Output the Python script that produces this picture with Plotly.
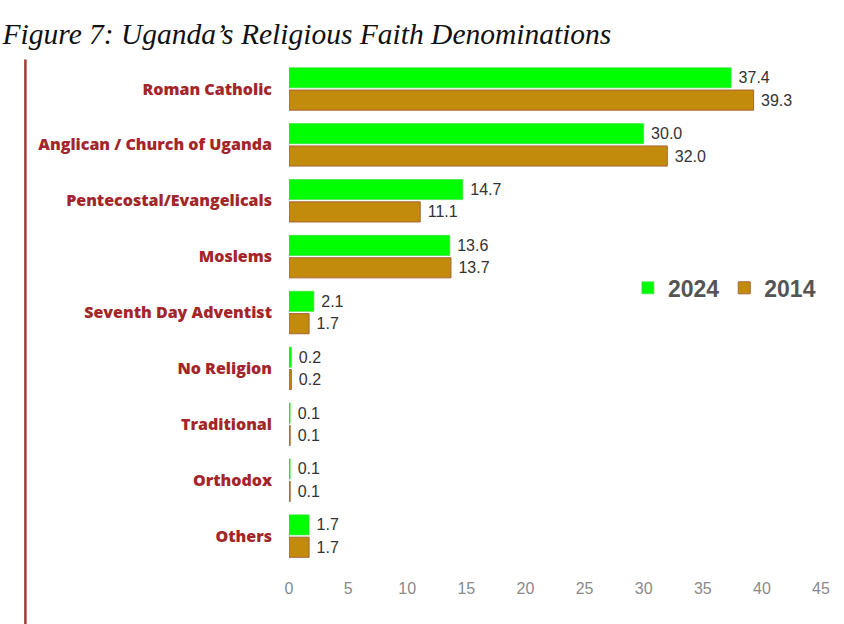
import plotly.graph_objects as go

# Religious affiliation shares (%), census 2024 vs 2014
categories = [
    "Roman Catholic",
    "Anglican / Church of Uganda",
    "Pentecostal/Evangelicals",
    "Moslems",
    "Seventh Day Adventist",
    "No Religion",
    "Traditional",
    "Orthodox",
    "Others",
]
share_2024 = [37.4, 30.0, 14.7, 13.6, 2.1, 0.2, 0.1, 0.1, 1.7]
share_2014 = [39.3, 32.0, 11.1, 13.7, 1.7, 0.2, 0.1, 0.1, 1.7]
x_ticks = [0, 5, 10, 15, 20, 25, 30, 35, 40, 45]

GREEN = "#00ff00"
BROWN = "#c28b0b"
LABEL_RED = "#a3262b"

value_font = dict(family="Liberation Sans", size=16, color="#333333")

fig = go.Figure()
fig.add_trace(go.Bar(
    y=categories, x=share_2024, name="2024", orientation="h",
    marker=dict(color=GREEN, line=dict(color="#3ed63e", width=0.6)),
    texttemplate=" %{x:.1f}", textposition="outside", cliponaxis=False,
    textfont=value_font,
))
fig.add_trace(go.Bar(
    y=categories, x=share_2014, name="2014", orientation="h",
    marker=dict(color=BROWN, line=dict(color="#a8643a", width=1)),
    texttemplate=" %{x:.1f}", textposition="outside", cliponaxis=False,
    textfont=value_font,
))

fig.update_layout(
    width=844, height=624,
    margin=dict(l=289, r=23, t=61, b=60),
    paper_bgcolor="white", plot_bgcolor="white",
    barmode="group", bargap=0.2, bargroupgap=0.1,
    title=dict(
        text="Figure 7: Uganda\u2019s Religious Faith Denominations",
        font=dict(family="Liberation Serif", size=29.5, color="#111111", style="italic"),
        xref="container", x=0.003, xanchor="left",
        yref="container", y=0.946, yanchor="middle",
    ),
    xaxis=dict(
        range=[0, 45], tickvals=x_ticks, showgrid=False, zeroline=False,
        showline=False, ticks="",
        tickfont=dict(family="Liberation Sans", size=16, color="#8a8a8a"),
        ticklabelstandoff=13,
    ),
    yaxis=dict(
        autorange="reversed", showgrid=False, zeroline=False, showline=False,
        ticks="", ticklabelstandoff=16,
        tickfont=dict(family="Open Sans", size=16, color=LABEL_RED, weight=800),
    ),
    legend=dict(
        orientation="h", x=0.637, y=0.549, xanchor="left", yanchor="middle",
        font=dict(family="Liberation Sans", size=23, color="#555555", weight="bold"),
        bgcolor="rgba(0,0,0,0)", itemwidth=30, traceorder="normal",
    ),
    shapes=[
        dict(type="line", xref="paper", yref="paper",
             x0=-0.4955, x1=-0.4955, y0=1.003, y1=-0.13,
             line=dict(color="#a53a36", width=2.5)),
    ],
)

fig.write_html("out.html")
